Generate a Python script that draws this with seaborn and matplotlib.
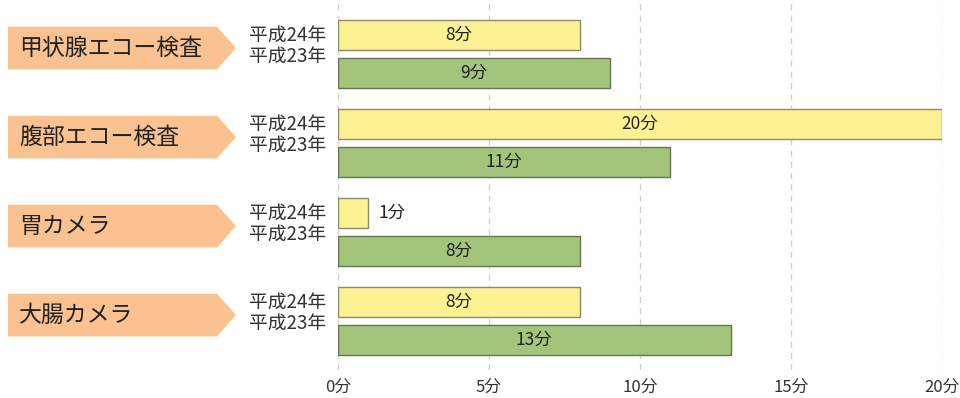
import numpy as np
import pandas as pd
import matplotlib
matplotlib.use("Agg")
import matplotlib.pyplot as plt
import matplotlib.transforms as mtransforms
from matplotlib.patches import Polygon
import seaborn as sns

# data
exams = ["甲状腺エコー検査", "腹部エコー検査", "胃カメラ", "大腸カメラ"]
years = ["平成24年", "平成23年"]
minutes_h24 = [8, 20, 1, 8]
minutes_h23 = [9, 11, 8, 13]
x_ticks = [0, 5, 10, 15, 20]
x_ticklabels = ["0分", "5分", "10分", "15分", "20分"]

df = pd.DataFrame({
    "exam": exams * 2,
    "year": [years[0]] * len(exams) + [years[1]] * len(exams),
    "minutes": minutes_h24 + minutes_h23,
})

sns.set_style("white")
plt.rcParams["font.family"] = ["Noto Sans CJK JP", "DejaVu Sans"]

fig = plt.figure(figsize=(9.6, 3.98), dpi=100)
ax = fig.add_axes([338 / 960, 28 / 398, (942 - 338) / 960, 370 / 398])

palette = {years[0]: "#fdf293", years[1]: "#a2c47b"}
edges = {years[0]: "#8c8a6a", years[1]: "#66754e"}
sns.barplot(data=df, y="exam", x="minutes", hue="year", order=exams,
            hue_order=years, palette=palette, saturation=1, width=0.854,
            gap=0.21, orient="h", ax=ax, legend=False, zorder=3)

for container, yr in zip(ax.containers, years):
    for bar in container:
        bar.set_edgecolor(edges[yr])
        bar.set_linewidth(1.0)
    for bar in container:
        w = bar.get_width()
        cy = bar.get_y() + bar.get_height() / 2
        if w >= 3:
            ax.text(w / 2, cy, f"{int(w)}分", ha="center", va="center",
                    fontsize=12.5, color="#222222", zorder=4)
        else:
            ax.text(w + 0.33, cy, f"{int(w)}分", ha="left", va="center",
                    fontsize=12.5, color="#222222", zorder=4)

ax.set_xlim(0, 20)
ax.set_ylim(3.55, -0.607)
ax.set_xticks(x_ticks)
ax.set_xticklabels(x_ticklabels, fontsize=12, color="#333333")
ax.set_yticks([])
ax.set_xlabel("")
ax.set_ylabel("")
ax.tick_params(axis="x", length=0, pad=6)
for s in ax.spines.values():
    s.set_visible(False)
for xv in x_ticks:
    ax.axvline(xv, color="#cfcfcf", linestyle=(0, (5, 4)), linewidth=0.9, zorder=1)

# arrow labels and year labels on the left
trans = mtransforms.blended_transform_factory(fig.transFigure, ax.transData)
for i, name in enumerate(exams):
    c = i - 0.067
    h = 0.24
    x0, x1, xt = 8 / 960, 217 / 960, 236 / 960
    poly = Polygon([(x0, c - h), (x1, c - h), (xt, c), (x1, c + h), (x0, c + h)],
                   closed=True, transform=trans, facecolor="#f9c290",
                   edgecolor="none", clip_on=False)
    fig.patches.append(poly)
    fig.text(19 / 960, c, name, transform=trans, ha="left", va="center",
             fontsize=16.5, color="#222222")
    fig.text(326 / 960, i - 0.215, years[0], transform=trans, ha="right",
             va="center", fontsize=13.5, color="#333333")
    fig.text(326 / 960, i + 0.02, years[1], transform=trans, ha="right",
             va="center", fontsize=13.5, color="#333333")

fig.savefig("out.png", dpi=100, facecolor="white")
